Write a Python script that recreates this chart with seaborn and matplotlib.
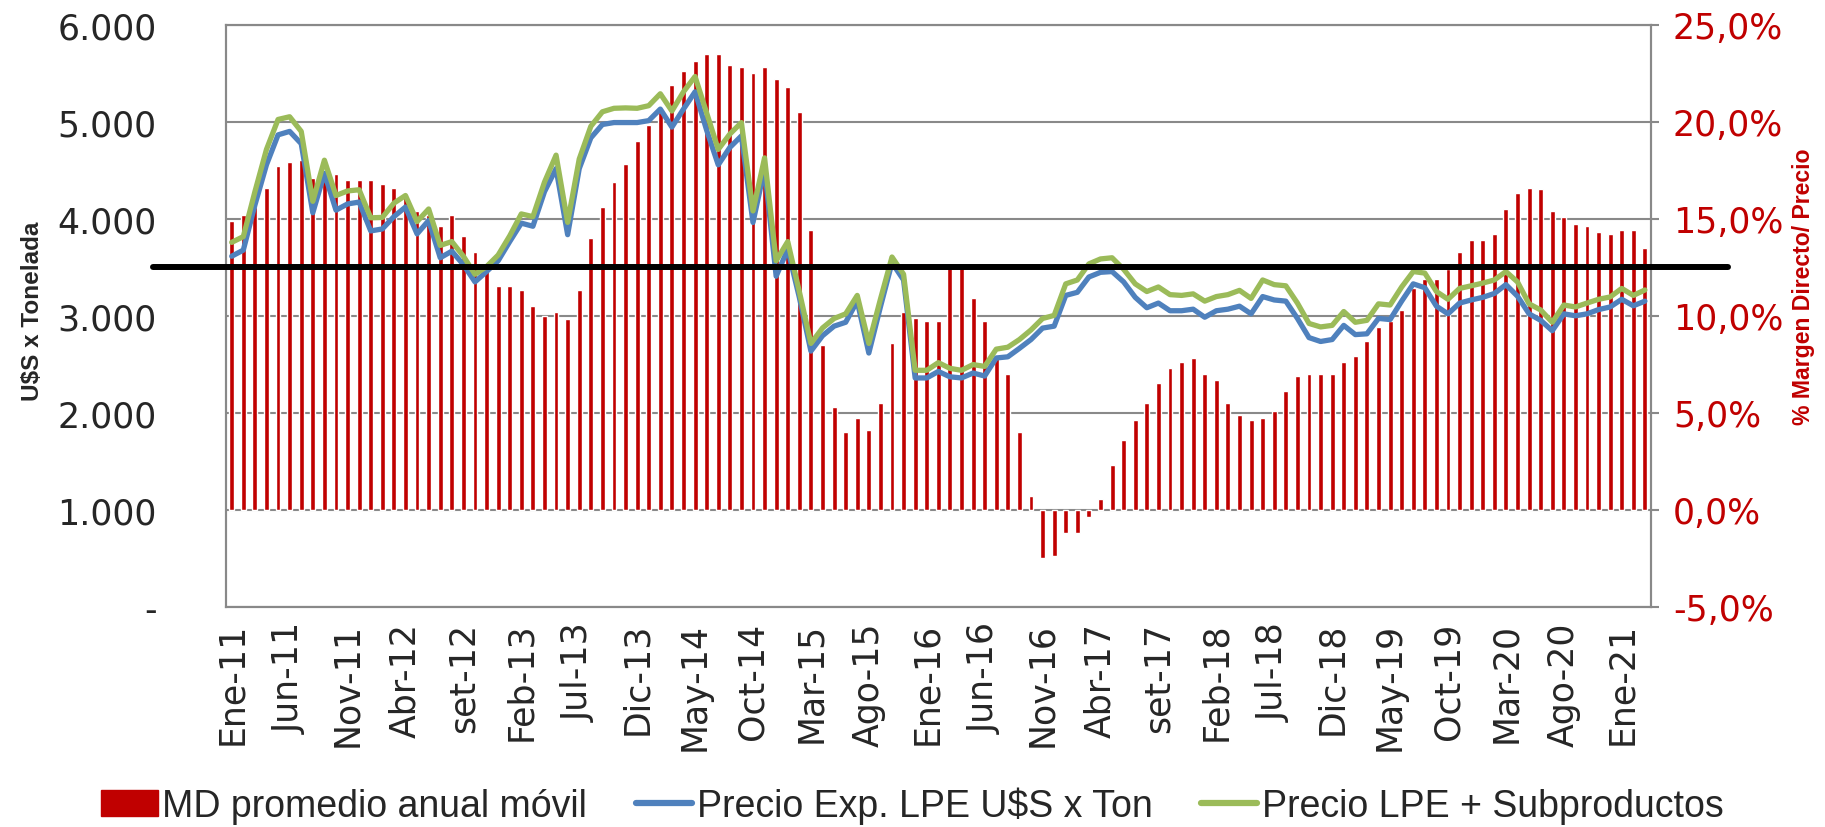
#!/usr/bin/env python
# Margen directo promedio anual movil vs precios de exportacion LPE
import numpy as np
import pandas as pd
import matplotlib
matplotlib.use("Agg")
import matplotlib.pyplot as plt
import seaborn as sns
from matplotlib.patches import Patch
from matplotlib.lines import Line2D

meses = ["Ene", "Feb", "Mar", "Abr", "May", "Jun", "Jul", "Ago", "set", "Oct", "Nov", "Dic"]
periodos = [f"{m}-{a}" for a in range(11, 22) for m in meses][:123]

# % margen directo / precio (eje derecho)
md_pct = [
    14.9, 15.2, 15.6, 16.6, 17.7, 17.9, 18.0, 17.1, 17.2, 17.3, 17.0, 17.0,
    17.0, 16.8, 16.6, 16.2, 15.4, 15.2, 14.6, 15.2, 14.1, 13.3, 12.4, 11.5,
    11.5, 11.3, 10.5, 10.0, 10.2, 9.8, 11.3, 14.0, 15.6, 16.9, 17.8, 19.0,
    19.8, 20.5, 21.9, 22.6, 23.1, 23.5, 23.5, 22.9, 22.8, 22.5, 22.8, 22.2,
    21.8, 20.5, 14.4, 8.5, 5.3, 4.0, 4.7, 4.1, 5.5, 8.6, 10.2, 9.9,
    9.7, 9.7, 12.5, 12.5, 10.9, 9.7, 7.8, 7.0, 4.0, 0.7, -2.5, -2.4,
    -1.2, -1.2, -0.4, 0.55, 2.3, 3.6, 4.6, 5.5, 6.5, 7.3, 7.6, 7.8,
    7.0, 6.7, 5.5, 4.9, 4.6, 4.7, 5.1, 6.1, 6.9, 7.0, 7.0, 7.0,
    7.6, 7.9, 8.7, 9.4, 9.7, 10.3, 11.4, 11.9, 11.9, 12.4, 13.3, 13.9,
    13.9, 14.2, 15.5, 16.3, 16.6, 16.5, 15.4, 15.1, 14.7, 14.6, 14.3, 14.2,
    14.4, 14.4, 13.5,
]

# U$S por tonelada (eje izquierdo)
precio_exp = [
    3612, 3675, 4139, 4555, 4863, 4899, 4772, 4060, 4467, 4087, 4151, 4170,
    3873, 3893, 4020, 4119, 3842, 3980, 3596, 3664, 3525, 3347, 3454, 3565,
    3763, 3953, 3921, 4277, 4515, 3834, 4515, 4832, 4970, 4990, 4990, 4990,
    5010, 5129, 4943, 5129, 5307, 4911, 4554, 4733, 4852, 3960, 4515, 3406,
    3683, 3188, 2634, 2792, 2891, 2931, 3149, 2614, 3089, 3545, 3367, 2357,
    2357, 2424, 2369, 2357, 2408, 2377, 2563, 2575, 2662, 2753, 2871, 2891,
    3208, 3240, 3398, 3446, 3454, 3347, 3188, 3081, 3129, 3050, 3050, 3066,
    2983, 3050, 3066, 3097, 3018, 3196, 3161, 3149, 2971, 2773, 2733, 2753,
    2899, 2804, 2812, 2971, 2959, 3149, 3327, 3287, 3097, 3018, 3129, 3161,
    3188, 3228, 3319, 3200, 3018, 2951, 2844, 3018, 2998, 3018, 3062, 3089,
    3168, 3101, 3149,
]

precio_sub = [
    3755, 3814, 4277, 4713, 5022, 5050, 4899, 4178, 4602, 4238, 4285, 4297,
    4008, 4012, 4159, 4238, 3969, 4099, 3723, 3763, 3612, 3426, 3505, 3624,
    3822, 4048, 4020, 4376, 4654, 3961, 4614, 4951, 5101, 5137, 5141, 5137,
    5164, 5287, 5109, 5307, 5465, 5089, 4713, 4871, 4990, 4079, 4626, 3565,
    3763, 3248, 2713, 2872, 2970, 3018, 3208, 2713, 3168, 3604, 3426, 2436,
    2436, 2515, 2456, 2436, 2495, 2476, 2654, 2674, 2753, 2852, 2970, 3002,
    3327, 3367, 3533, 3584, 3596, 3477, 3327, 3248, 3295, 3216, 3208, 3224,
    3149, 3196, 3216, 3260, 3177, 3367, 3319, 3307, 3129, 2919, 2883, 2899,
    3042, 2931, 2951, 3121, 3109, 3295, 3454, 3438, 3248, 3168, 3280, 3307,
    3335, 3367, 3454, 3347, 3121, 3058, 2931, 3109, 3089, 3129, 3168, 3192,
    3280, 3208, 3264,
]

linea_ref = 3500

ticks_izq = [0, 1000, 2000, 3000, 4000, 5000, 6000]
labels_izq = ["-", "1.000", "2.000", "3.000", "4.000", "5.000", "6.000"]
ticks_der = [-5, 0, 5, 10, 15, 20, 25]

ROJO = "#C00000"
AZUL = "#4F81BD"
VERDE = "#9BBB59"
GRIS = "#898989"

df = pd.DataFrame({"periodo": periodos, "md": md_pct,
                   "exp": precio_exp, "sub": precio_sub})
df["x"] = np.arange(len(df))

sns.set_theme(style="white")
plt.rcParams["font.family"] = ["DejaVu Sans"]
sans = ["Liberation Sans", "DejaVu Sans"]

fig = plt.figure(figsize=(18.25, 8.28), dpi=100)
ax = fig.add_axes([0.1238, 0.2662, 0.7807, 0.7029])
ax2 = ax.twinx()

# bars on the right axis, lines on the left axis (drawn on top)
sns.barplot(data=df, x="periodo", y="md", color=ROJO, saturation=1,
            width=0.42, errorbar=None, ax=ax2)
sns.lineplot(data=df, x="x", y="exp", color=AZUL, lw=3.8, ax=ax,
             solid_joinstyle="round")
sns.lineplot(data=df, x="x", y="sub", color=VERDE, lw=3.8, ax=ax,
             solid_joinstyle="round")
ax.set_zorder(ax2.get_zorder() + 1)
ax.patch.set_visible(False)

ax.axhline(linea_ref, xmin=-0.051, xmax=1.054, color="black", lw=4.3,
           clip_on=False, zorder=5)

ax.set_ylim(0, 6000)
ax2.set_ylim(-5, 25)
ax.set_xlim(-0.5, len(df) - 0.5)

ax2.yaxis.grid(True, color=GRIS, lw=1.5)
ax2.xaxis.grid(False)
ax2.set_axisbelow(True)
ax.grid(False)

ax.set_yticks(ticks_izq)
ax.set_yticklabels(labels_izq, fontsize=25)
ax2.set_yticks(ticks_der)
ax2.set_yticklabels([f"{v:.1f}%".replace(".", ",") for v in ticks_der],
                    fontsize=25, color=ROJO)

ax.set_xticks(df["x"][::5])
ax.set_xticklabels(df["periodo"][::5], rotation=90, fontsize=25)
ax.tick_params(axis="x", length=0, pad=11)
ax.tick_params(axis="y", length=0, pad=50)
ax2.tick_params(axis="y", length=6, width=1.5, color=GRIS, pad=10, direction="out")
ax2.set_xlabel("")

for a in (ax, ax2):
    for s in a.spines.values():
        s.set_color(GRIS)
        s.set_linewidth(1.5)

ax.set_xlabel("")
ax.set_ylabel("U$S x Tonelada", family=sans, fontweight="bold", fontsize=17.5)
ax.yaxis.set_label_coords(-0.128, 0.509)
ax2.set_ylabel("% Margen Directo/ Precio", family=sans, fontweight="bold",
               fontsize=16.6, color=ROJO)
ax2.yaxis.set_label_coords(1.099, 0.551)

handles = [Patch(facecolor=ROJO, edgecolor=ROJO),
           Line2D([], [], color=AZUL, lw=4.5, solid_capstyle="round"),
           Line2D([], [], color=VERDE, lw=4.5, solid_capstyle="round")]
labels = ["MD promedio anual móvil", "Precio Exp. LPE U$S x Ton",
          "Precio LPE + Subproductos"]
fig.legend(handles, labels, loc="center", bbox_to_anchor=(0.5, 0.026), ncol=3,
           frameon=False, prop={"family": sans, "size": 27},
           handlelength=1.5, handletextpad=0.12, columnspacing=1.3)

fig.savefig("out.png", dpi=100)
